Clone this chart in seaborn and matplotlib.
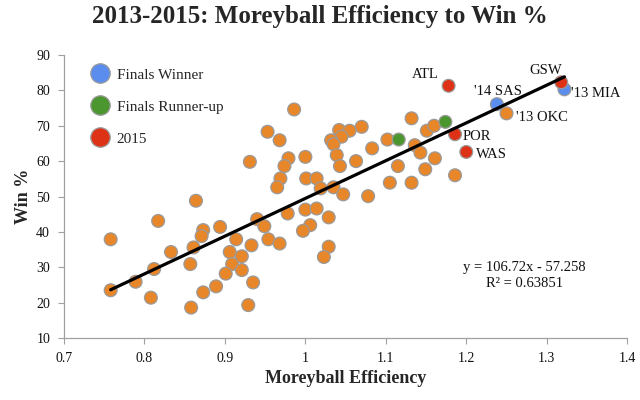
import matplotlib
matplotlib.use("Agg")
import matplotlib.pyplot as plt
import pandas as pd
import seaborn as sns
from matplotlib.lines import Line2D

sns.set_theme(style="white")
plt.rcParams['font.family'] = ['Liberation Serif', 'DejaVu Serif']

# regular teams (orange)
other_x = [0.758, 0.817, 0.864, 0.873, 0.871, 0.833, 0.861, 0.857, 0.812, 0.789,
           0.758, 0.808, 0.873, 0.889, 0.858, 1.000, 1.014, 1.029, 0.978, 0.940,
           0.949, 0.894, 1.006, 0.997, 0.914, 0.933, 0.954, 0.968, 0.906, 0.921,
           1.029, 1.023, 0.909, 0.921, 0.901, 0.935, 0.929, 0.986, 0.953, 0.968,
           0.931, 0.979, 0.974, 1.000, 0.969, 0.965, 1.001, 1.014, 1.132, 1.070,
           1.042, 1.055, 1.045, 1.032, 1.035, 1.151, 1.160, 1.102, 1.136, 1.143,
           1.161, 1.083, 1.039, 1.043, 1.063, 1.115, 1.149, 1.019, 1.035, 1.047,
           1.105, 1.132, 1.078, 1.186, 1.250]
other_y = [37.9, 43.1, 48.8, 40.5, 38.8, 34.3, 35.6, 30.9, 29.5, 25.9,
           23.5, 21.4, 22.9, 24.6, 18.6, 46.3, 46.6, 44.1, 45.2, 43.6,
           41.6, 41.4, 41.9, 40.3, 37.9, 36.2, 37.9, 36.7, 34.3, 33.1,
           35.8, 32.9, 30.9, 29.2, 28.2, 25.7, 19.3, 74.6, 68.3, 65.9,
           59.8, 60.8, 58.6, 61.2, 55.1, 52.6, 55.1, 55.1, 72.1, 69.7,
           68.8, 68.6, 66.9, 65.9, 64.8, 68.6, 70.0, 66.1, 64.5, 62.4,
           60.8, 63.6, 61.7, 58.6, 60.0, 58.6, 57.7, 52.3, 52.6, 50.6,
           53.9, 53.9, 50.1, 56.0, 73.5]

winner_x = [1.238, 1.322]
winner_y = [76.1, 80.3]
winner_labels = ["'14 SAS", "'13 MIA"]

runner_x = [1.116, 1.174]
runner_y = [66.1, 71.1]

y2015_x = [1.178, 1.318, 1.186, 1.200]
y2015_y = [81.3, 82.3, 67.6, 62.6]
y2015_labels = ["ATL", "GSW", "POR", "WAS"]

okc_label = "'13 OKC"

slope = 106.72
intercept = -57.258
r_squared = 0.63851

groups = ["Other", "Finals Winner", "Finals Runner-up", "2015"]
colors = {"Other": "#E8862A", "Finals Winner": "#5B8DEF",
          "Finals Runner-up": "#4C962F", "2015": "#DE3217"}

df = pd.concat([
    pd.DataFrame({"x": other_x, "y": other_y, "group": "Other"}),
    pd.DataFrame({"x": winner_x, "y": winner_y, "group": "Finals Winner"}),
    pd.DataFrame({"x": runner_x, "y": runner_y, "group": "Finals Runner-up"}),
    pd.DataFrame({"x": y2015_x, "y": y2015_y, "group": "2015"}),
], ignore_index=True)

fig, ax = plt.subplots(figsize=(6.4, 4.0), dpi=100)
fig.subplots_adjust(left=0.1, right=0.98, top=0.8625, bottom=0.155)

sns.scatterplot(data=df, x="x", y="y", hue="group", hue_order=groups, palette=colors,
                s=85, edgecolor="#9a9a9a", linewidth=0.9, legend=False, ax=ax, zorder=3)

# trend line from the equation
x_line = [min(df["x"]), max(df["x"])]
y_line = [slope * v + intercept for v in x_line]
sns.lineplot(x=x_line, y=y_line, color="black", linewidth=2.3, ax=ax, zorder=4)

# team labels
label_style = dict(textcoords="offset pixels", fontsize=10.5, color="#111111", zorder=5)
ax.annotate(winner_labels[0], (winner_x[0], winner_y[0]), xytext=(1, 13), ha="center", va="center", **label_style)
ax.annotate(winner_labels[1], (winner_x[1], winner_y[1]), xytext=(7, -4), ha="left", va="center", **label_style)
ax.annotate(y2015_labels[0], (y2015_x[0], y2015_y[0]), xytext=(-10, 11), ha="right", va="center", **label_style)
ax.annotate(y2015_labels[1], (y2015_x[1], y2015_y[1]), xytext=(-16, 12), ha="center", va="center", **label_style)
ax.annotate(y2015_labels[2], (y2015_x[2], y2015_y[2]), xytext=(8, -2), ha="left", va="center", **label_style)
ax.annotate(y2015_labels[3], (y2015_x[3], y2015_y[3]), xytext=(10, -3), ha="left", va="center", **label_style)
ax.annotate(okc_label, (other_x[-1], other_y[-1]), xytext=(9, -4), ha="left", va="center", **label_style)

ax.text(1.272, 27.7, f"y = {slope}x - {-intercept}\nR\u00b2 = {r_squared}", ha="center", va="center",
        fontsize=10.5, linespacing=1.25, color="#111111")

ax.set_xlim(0.7, 1.4)
ax.set_ylim(10, 90)
xticks = [0.7, 0.8, 0.9, 1.0, 1.1, 1.2, 1.3, 1.4]
ax.set_xticks(xticks)
ax.set_xticklabels(["0.7", "0.8", "0.9", "1", "1.1", "1.2", "1.3", "1.4"])
ax.set_yticks(range(10, 91, 10))
ax.tick_params(axis="both", labelsize=10, colors="#111111", length=4, width=0.8,
               direction="out", bottom=True, left=True, pad=6)
ax.tick_params(axis="both", color="#a0a0a0")
for side in ["top", "right"]:
    ax.spines[side].set_visible(False)
for side in ["left", "bottom"]:
    ax.spines[side].set_color("#a0a0a0")
    ax.spines[side].set_linewidth(0.9)

ax.set_xlabel("Moreyball Efficiency", fontsize=13, fontweight="bold", labelpad=4)
ax.set_ylabel("Win %", fontsize=13, fontweight="bold", labelpad=3)
fig.suptitle("2013-2015: Moreyball Efficiency to Win %", fontsize=18, fontweight="bold", y=0.958, va="center")

handles = [Line2D([], [], marker="o", linestyle="", markersize=14, markerfacecolor=colors[g],
                  markeredgecolor="#9a9a9a", markeredgewidth=0.9) for g in groups[1:]]
ax.legend(handles, groups[1:], loc="upper left", bbox_to_anchor=(0.039, 0.976), frameon=False,
          fontsize=11, labelspacing=1.2, handlelength=1.0, handletextpad=0.6, borderaxespad=0)

fig.savefig("out.png", dpi=100)
